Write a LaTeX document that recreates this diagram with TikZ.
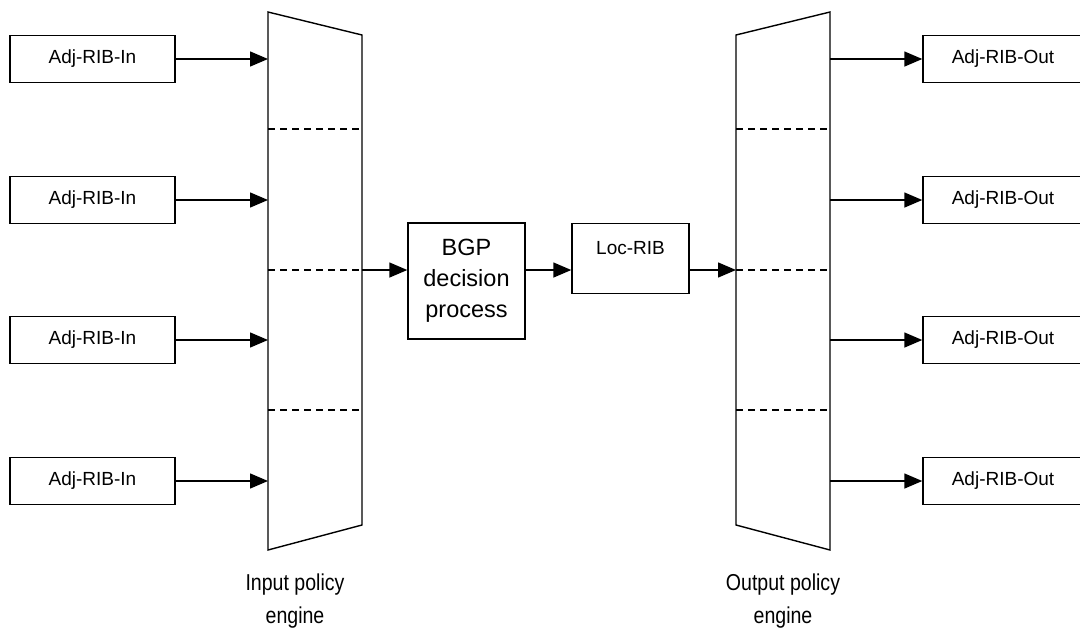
\documentclass[tikz,border=0pt]{standalone}
\usepackage{fontspec}
\setmainfont{Liberation Sans}
\newfontfamily\condfont[FakeStretch=0.85]{Liberation Sans}
\usetikzlibrary{arrows.meta}
\begin{document}
\begin{tikzpicture}[x=1pt,y=-1pt,
  line width=1.4pt,
  ribbox/.style={draw, minimum width=165pt, minimum height=47pt, inner sep=0pt, font=\fontsize{19}{22}\selectfont},
  boxtext/.style={inner sep=0pt, font=\fontsize{19}{22}\selectfont},
  procbox/.style={draw, inner sep=0pt, align=center, font=\fontsize{23.5}{31}\selectfont},
  conn/.style={-{Triangle[length=18pt,width=15pt]}},
  sep/.style={dashed, dash pattern=on 7pt off 5pt},
  lbl/.style={align=center, font=\condfont\fontsize{23}{33}\selectfont}]
\useasboundingbox (0,0) rectangle (1080,633);
\fill[white] (0,0) rectangle (1080,633);

% input policy engine
\draw (268,12) -- (362,35) -- (362,525) -- (268,550) -- cycle;
\draw[sep] (268,129) -- (362,129);
\draw[sep] (268,270) -- (362,270);
\draw[sep] (268,410) -- (362,410);
% output policy engine
\draw (736,35) -- (830,12) -- (830,550) -- (736,525) -- cycle;
\draw[sep] (736,129) -- (830,129);
\draw[sep] (736,270) -- (830,270);
\draw[sep] (736,410) -- (830,410);

\foreach \i/\y in {1/59,2/200,3/340,4/481}{
  \node[ribbox] (in\i) at (92.5,\y) {Adj-RIB-In};
  \coordinate (ie\i) at (268,\y);
  \draw[conn] (in\i.east) -- (ie\i);
  \node[draw, minimum width=170pt, minimum height=47pt, inner sep=0pt] (out\i) at (1008,\y) {};
  \node[boxtext] (outt\i) at (1003,\y) {Adj-RIB-Out};
  \coordinate (oe\i) at (830,\y);
  \draw[conn] (oe\i) -- (out\i.west);
}

\coordinate (ieout) at (362,270);
\coordinate (oein) at (736,270);
\node[procbox, minimum width=117pt, minimum height=116pt] (bgp) at (466.5,281) {BGP\\decision\\process};
\node[procbox, minimum width=117pt, minimum height=70pt, anchor=north] (loc) at (630.5,223) {};
\node[boxtext] (loct) at (630.5,248) {Loc-RIB};
\draw[conn] (ieout) -- (ieout -| bgp.west);
\draw[conn] (bgp.east |- ieout) -- (loc.west |- ieout);
\draw[conn] (loc.east |- ieout) -- (oein);

\node[lbl] (inl) at (295,601) {Input policy\\engine};
\node[lbl] (outl) at (783,601) {Output policy\\engine};
\end{tikzpicture}
\end{document}
